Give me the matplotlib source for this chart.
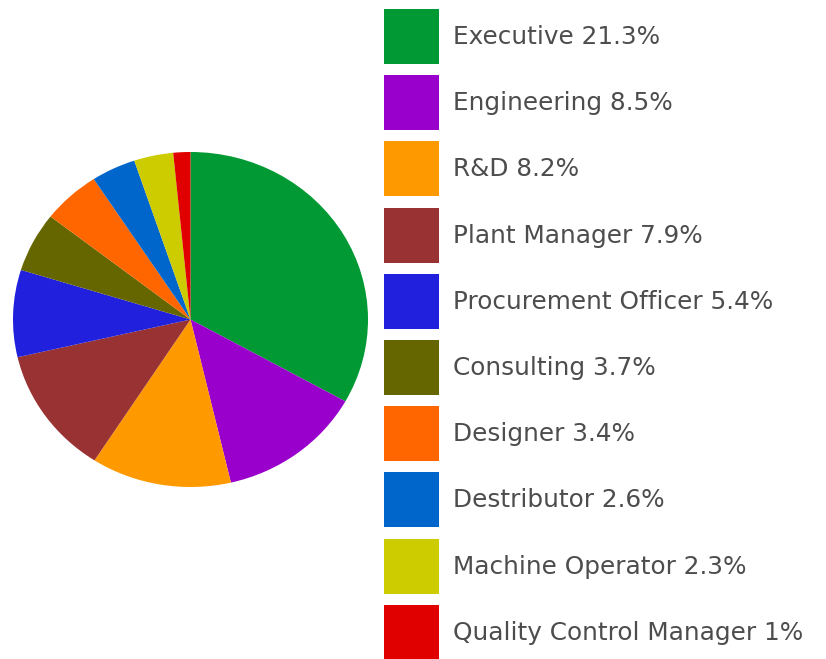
import matplotlib
matplotlib.use("Agg")
import matplotlib.pyplot as plt
from matplotlib.patches import Rectangle

roles = ["Executive", "Engineering", "R&D", "Plant Manager", "Procurement Officer",
         "Consulting", "Designer", "Destributor", "Machine Operator",
         "Quality Control Manager"]
shares = [21.3, 8.5, 8.2, 7.9, 5.4, 3.7, 3.4, 2.6, 2.3, 1]
share_labels = ["21.3%", "8.5%", "8.2%", "7.9%", "5.4%", "3.7%", "3.4%", "2.6%", "2.3%", "1%"]
colors = ["#009933", "#9900cc", "#ff9900", "#993333", "#2020dd",
          "#666600", "#ff6600", "#0066cc", "#cccc00", "#e00000"]

W, H = 826, 659
fig = plt.figure(figsize=(W / 100, H / 100), dpi=100)

# pie (slightly wider than tall, like the original)
cx, cy, rx, ry = 190.5, 319.5, 177.5, 167.5
ax = fig.add_axes([(cx - rx) / W, 1 - (cy + ry) / H, 2 * rx / W, 2 * ry / H])
ax.pie(shares, colors=colors, startangle=90, counterclock=False,
       wedgeprops=dict(linewidth=0))
ax.set_xlim(-1, 1)
ax.set_ylim(-1, 1)
ax.set_aspect("auto")
ax.axis("off")

# legend
lax = fig.add_axes([0, 0, 1, 1])
lax.set_xlim(0, W)
lax.set_ylim(H, 0)
lax.axis("off")
for i, (r, lab, c) in enumerate(zip(roles, share_labels, colors)):
    top = 9 + i * 66.2
    lax.add_patch(Rectangle((384, top), 55, 55, color=c, lw=0))
    lax.text(453, top + 28, f"{r} {lab}", fontsize=17.8, color="#4d4d4d",
             va="center", ha="left", family="DejaVu Sans")

fig.savefig("out.png", dpi=100)
